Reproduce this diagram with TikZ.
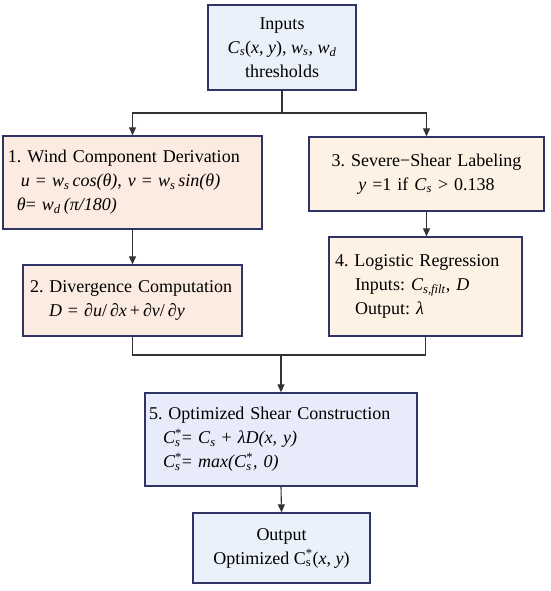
\documentclass[tikz,border=0pt]{standalone}
\usepackage{fontspec}
\setmainfont{Liberation Serif}
\usetikzlibrary{arrows.meta}
\definecolor{bordc}{HTML}{2E3466}
\definecolor{bluef}{HTML}{EAF1FB}
\definecolor{peachf}{HTML}{FCEBE1}
\definecolor{creamf}{HTML}{FDF2E4}
\definecolor{lavf}{HTML}{E8ECFA}
\definecolor{linec}{HTML}{333333}
\newcommand{\mi}[1]{\textit{#1}}
\newcommand{\msb}[1]{\textsubscript{\textit{#1}}}
\newcommand{\msbsp}[2]{\rlap{\textsubscript{#1}}\textsuperscript{#2}}
\newcommand{\boxfont}{\fontsize{18}{24}\selectfont\frenchspacing}
\hyphenpenalty=10000
\exhyphenpenalty=10000
\begin{document}
\begin{tikzpicture}[x=1pt,y=-1pt,
  box/.style={draw=bordc, line width=1.3pt, inner ysep=0pt, font=\boxfont},
  conn/.style={draw=linec, line width=1.1pt},
  arr/.style={conn, -{Triangle[length=8pt,width=7pt]}}]
\useasboundingbox (0,0) rectangle (550,591);

\node[box, fill=bluef, align=center, minimum width=148pt, minimum height=85pt] (in) at (282,47.5)
  {Inputs\\ \mi{C}\msb{s}(\mi{x}, \mi{y}), \mi{w}\msb{s}, \mi{w}\msb{d}\\ thresholds};

\node[box, fill=peachf, align=left, text width=249pt, inner xsep=5pt, minimum height=93pt] (b1) at (132.5,182.5)
  {1. Wind Component Derivation\\
   \hspace*{13pt}\mi{u} = \mi{w}\msb{s}\,\mi{cos(θ)}, \mi{v} = \mi{w}\msb{s}\,\mi{sin(θ)}\\
   \hspace*{9pt}\mi{θ}= \mi{w}\msb{d}\,\mi{(π/180)}};

\node[box, fill=peachf, align=left, text width=205pt, inner xsep=7pt, minimum height=71pt] (b2) at (132.5,300.5)
  {2. Divergence Computation\\
   \hspace*{19pt}\mi{D} = \mi{∂u}/\,\mi{∂x}\,+\,\mi{∂v}/\,\mi{∂y}};

\node[box, fill=creamf, align=center, text width=225pt, inner xsep=5pt, minimum height=74pt] (b3) at (426.5,174)
  {3. Severe−Shear Labeling\\
   \mi{y} =1 if \mi{C}\msb{s} > 0.138};

\node[box, fill=creamf, align=left, text width=181pt, inner xsep=6pt, minimum height=99pt] (b4) at (425.5,286.5)
  {4. Logistic Regression\\
   \hspace*{20pt}Inputs: \mi{C}\msb{s,filt}, \mi{D}\\
   \hspace*{20pt}Output: \mi{λ}};

\node[box, fill=lavf, align=left, text width=264pt, inner xsep=4pt, minimum height=93pt] (b5) at (281,439.5)
  {5. Optimized Shear Construction\\
   \hspace*{14pt}\mi{C}\msbsp{\mi{s}}{*}= \mi{C}\msb{s} + \mi{λD(x, y)}\\
   \hspace*{14pt}\mi{C}\msbsp{\mi{s}}{*}= \mi{max(C}\msbsp{\mi{s}}{*}\mi{, 0)}};

\node[box, fill=bluef, align=center, minimum width=177pt, minimum height=70pt] (out) at (281.5,548)
  {Output\\ Optimized C\msbsp{s}{*}(\mi{x}, \mi{y})};

\coordinate (s1) at (282,113);
\coordinate (m1) at (281,355);

\draw[conn] (in.south) -- (s1);
\draw[arr] (s1) -| (b1.north);
\draw[arr] (s1) -| (b3.north);
\draw[arr] (b1.south) -- (b2.north);
\draw[arr] (b3.south) -- (b3.south |- b4.north);
\draw[conn] (b2.south) |- (m1);
\draw[conn] (b4.south) |- (m1);
\draw[arr] (m1) -- (b5.north);
\draw[arr] (b5.south) -- (out.north);
\end{tikzpicture}
\end{document}
